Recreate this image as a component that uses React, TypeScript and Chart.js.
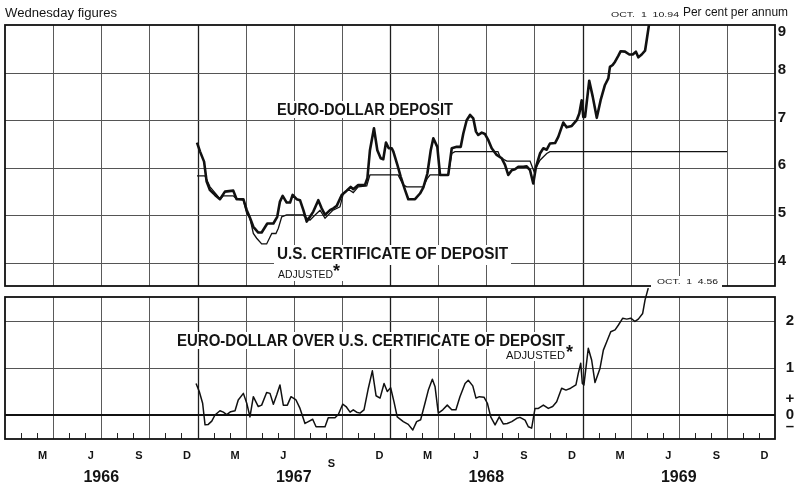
import React, { useEffect, useRef } from 'react';
import { Chart, registerables } from 'chart.js';

Chart.register(...registerables);

// ---------------- data (x = months since 1 Jan 1966) ----------------
const years = [1966, 1967, 1968, 1969];
const monthLetters = ['M', 'J', 'S', 'D'];
const monthLetterIndex = [2, 5, 8, 11];
const rateTicks = [9, 8, 7, 6, 5, 4];
const spreadTicks = [2, 1, 0];

const euroMonths = [
  11.97, 12.16, 12.41, 12.57, 12.78, 13.09, 13.4, 13.71, 14.23, 14.44, 14.86, 15.07, 15.27, 15.48,
  15.79, 16.0, 16.35, 16.73, 16.97, 17.14, 17.31, 17.56, 17.77, 17.93, 18.18, 18.39, 18.6, 18.81,
  19.01, 19.22, 19.53, 19.74, 19.95, 20.26, 20.47, 20.68, 20.99, 21.3, 21.55, 21.71, 22.02, 22.44,
  22.59, 22.75, 23.0, 23.21, 23.42, 23.58, 23.75, 23.92, 24.11, 24.21, 24.46, 24.67, 24.94, 25.14,
  25.56, 25.87, 26.08, 26.33, 26.54, 26.7, 26.95, 27.12, 27.63, 27.85, 28.16, 28.41, 28.57, 28.78,
  28.99, 29.19, 29.36, 29.5, 29.72, 29.92, 30.13, 30.34, 30.65, 30.96, 31.17, 31.37, 31.59, 31.79,
  32.0, 32.31, 32.52, 32.73, 32.93, 33.1, 33.35, 33.56, 33.77, 33.97, 34.29, 34.49, 34.8, 35.01,
  35.33, 35.64, 35.8, 35.95, 36.05, 36.16, 36.42, 36.64, 36.89, 37.13, 37.4, 37.61, 37.71, 37.88,
  38.03, 38.23, 38.38, 38.65, 38.92, 39.13, 39.33, 39.48, 39.69, 39.9, 40.0, 40.16, 40.33,
];
const euroRates = [
  6.53, 6.34, 6.13, 5.71, 5.53, 5.43, 5.34, 5.5, 5.52, 5.34, 5.34, 5.11, 4.95, 4.76,
  4.64, 4.64, 4.83, 4.83, 4.97, 5.29, 5.41, 5.27, 5.27, 5.43, 5.34, 5.32, 5.11, 4.87,
  4.97, 5.08, 5.32, 5.15, 5.01, 5.11, 5.15, 5.2, 5.43, 5.52, 5.6, 5.55, 5.64, 5.64,
  5.78, 6.37, 6.83, 6.37, 6.2, 6.18, 6.53, 6.41, 6.41, 6.34, 6.06, 5.81, 5.53, 5.34,
  5.34, 5.46, 5.59, 5.88, 6.37, 6.62, 6.44, 5.85, 5.85, 6.41, 6.44, 6.44, 6.72, 7.0,
  7.11, 7.04, 6.76, 6.69, 6.74, 6.71, 6.58, 6.41, 6.27, 6.2, 6.06, 5.85, 5.95, 5.97,
  6.02, 6.02, 6.03, 5.95, 5.67, 6.02, 6.3, 6.41, 6.38, 6.51, 6.52, 6.65, 6.95, 6.85,
  6.88, 7.0, 7.14, 7.42, 7.07, 7.07, 7.83, 7.49, 7.05, 7.42, 7.74, 7.88, 8.12, 8.16,
  8.23, 8.35, 8.45, 8.44, 8.38, 8.38, 8.44, 8.32, 8.38, 8.46, 8.68, 9.04, 9.6,
];

const cdMonths = [
  11.97, 12.47, 12.78, 13.2, 13.4, 13.61, 14.23, 14.44, 14.86, 15.07, 15.27, 15.48, 15.69, 16.0,
  16.31, 16.63, 16.89, 17.04, 17.25, 17.56, 18.58, 18.7, 19.01, 19.33, 19.64, 19.95, 20.45, 20.88,
  21.09, 21.4, 21.71, 22.02, 22.55, 22.75, 24.5, 24.83, 25.04, 26.08, 26.33, 26.5, 27.63, 27.85,
  28.05, 30.73, 30.86, 31.17, 31.29, 32.73, 32.98, 33.35, 33.77, 33.97, 45.01,
];
const cdRates = [
  5.83, 5.83, 5.6, 5.43, 5.34, 5.41, 5.41, 5.34, 5.32, 5.04, 4.94, 4.62, 4.52, 4.4,
  4.4, 4.62, 4.62, 4.73, 4.97, 5.01, 5.01, 4.97, 4.9, 5.01, 5.11, 4.94, 5.11, 5.18,
  5.46, 5.55, 5.48, 5.6, 5.62, 5.85, 5.85, 5.64, 5.6, 5.6, 5.78, 5.85, 5.85, 6.3,
  6.34, 6.34, 6.23, 6.16, 6.14, 6.14, 5.92, 6.16, 6.3, 6.34, 6.34,
];

const spreadMonths = [
  11.91, 12.11, 12.32, 12.47, 12.67, 12.89, 13.09, 13.4, 13.61, 13.82, 14.07, 14.34, 14.54, 14.86,
  15.07, 15.27, 15.48, 15.79, 16.0, 16.31, 16.52, 16.73, 16.94, 17.14, 17.35, 17.6, 17.83, 18.14,
  18.39, 18.7, 18.91, 19.18, 19.39, 19.74, 19.95, 20.15, 20.57, 20.78, 21.05, 21.26, 21.51, 21.71,
  21.92, 22.13, 22.38, 22.65, 22.9, 23.13, 23.38, 23.63, 23.83, 24.04, 24.25, 24.45, 24.83, 25.14,
  25.42, 25.66, 25.91, 26.18, 26.39, 26.64, 26.81, 27.01, 27.29, 27.57, 27.85, 28.11, 28.36, 28.68,
  28.88, 29.16, 29.36, 29.57, 29.86, 30.07, 30.28, 30.55, 30.81, 31.06, 31.31, 31.59, 31.9, 32.1,
  32.42, 32.62, 32.83, 33.04, 33.25, 33.56, 33.87, 34.14, 34.39, 34.7, 34.97, 35.26, 35.59, 35.74,
  35.89, 35.99, 36.09, 36.36, 36.57, 36.78, 37.09, 37.3, 37.51, 37.76, 38.03, 38.23, 38.51, 38.76,
  39.01, 39.27, 39.48, 39.75, 39.9, 40.1,
];
const spreadValues = [
  0.67, 0.5, 0.25, -0.21, -0.2, -0.13, 0.0, 0.09, 0.06, 0.01, 0.07, 0.09, 0.32, 0.46,
  0.25, -0.04, 0.39, 0.18, 0.21, 0.48, 0.46, 0.23, 0.43, 0.64, 0.21, 0.21, 0.39, 0.32,
  0.14, -0.18, -0.14, -0.09, -0.25, -0.25, -0.25, -0.06, -0.06, 0.01, 0.23, 0.18, 0.06, 0.11,
  0.06, 0.04, 0.11, 0.57, 0.94, 0.41, 0.36, 0.67, 0.5, 0.58, 0.28, -0.04, -0.14, -0.2,
  -0.32, -0.14, -0.1, 0.25, 0.53, 0.76, 0.6, 0.04, 0.11, 0.21, 0.11, 0.11, 0.39, 0.67,
  0.74, 0.62, 0.36, 0.39, 0.38, 0.25, -0.04, -0.21, -0.04, -0.19, -0.18, -0.14, -0.07, -0.05,
  -0.11, -0.25, -0.28, 0.14, 0.14, 0.21, 0.14, 0.18, 0.28, 0.57, 0.53, 0.57, 0.64, 0.89,
  1.1, 0.67, 0.64, 1.42, 1.17, 0.69, 0.99, 1.38, 1.56, 1.77, 1.81, 1.91, 2.06, 2.04,
  2.06, 1.99, 2.04, 2.16, 2.45, 2.7,
];

// ---------------- layout ----------------
const W = 805;
const H = 485;
const AREA = { left: 5, top: 25, right: 775, bottom: 439 };
const TOP_PANEL_BOTTOM = 286;
const BOTTOM_PANEL_TOP = 297;
const RATE_UNIT_PX = 47.6;
const SPREAD_UNIT_PX = 47;
const SPREAD_ZERO_PX = 415;
const rateMax = 9;
const rateMin = rateMax - (AREA.bottom - AREA.top) / RATE_UNIT_PX;
const spreadMin = -(AREA.bottom - SPREAD_ZERO_PX) / SPREAD_UNIT_PX;
const spreadMax = spreadMin + (AREA.bottom - AREA.top) / SPREAD_UNIT_PX;

const FONT = '"Liberation Sans", Arial, Helvetica, sans-serif';
const INK = '#141414';

function drawText(
  ctx: CanvasRenderingContext2D,
  s: string,
  x: number,
  y: number,
  font: string,
  align: 'left' | 'center' = 'left',
  width?: number,
  baseline: CanvasTextBaseline = 'alphabetic'
) {
  ctx.save();
  ctx.font = font;
  ctx.fillStyle = INK;
  ctx.textBaseline = baseline;
  ctx.textAlign = 'left';
  const w = ctx.measureText(s).width;
  const sx = width ? width / w : 1;
  const dw = w * sx;
  const left = align === 'center' ? x - dw / 2 : x;
  ctx.translate(left, y);
  ctx.scale(sx, 1);
  ctx.fillText(s, 0, 0);
  ctx.restore();
}

function whiteBox(ctx: CanvasRenderingContext2D, x: number, y: number, w: number, h: number) {
  ctx.save();
  ctx.fillStyle = '#ffffff';
  ctx.fillRect(x, y, w, h);
  ctx.restore();
}

const panelsPlugin = {
  id: 'panels',
  beforeDraw(chart: any) {
    const ctx = chart.ctx as CanvasRenderingContext2D;
    ctx.save();
    ctx.fillStyle = '#ffffff';
    ctx.fillRect(0, 0, chart.width, chart.height);
    ctx.restore();
  },
  beforeDatasetsDraw(chart: any) {
    const ctx = chart.ctx as CanvasRenderingContext2D;
    const xs = chart.scales.x;
    const ys = chart.scales.y;
    const y2 = chart.scales.y2;
    const L = AREA.left;
    const R = AREA.right;
    ctx.save();
    // vertical quarter gridlines
    for (let m = 3; m < 48; m += 3) {
      const x = Math.round(xs.getPixelForValue(m)) + 0.5;
      const isYear = m % 12 === 0;
      ctx.strokeStyle = isYear ? '#1e1e1e' : '#5a5a5a';
      ctx.lineWidth = isYear ? 1.3 : 1;
      ctx.beginPath();
      ctx.moveTo(x, AREA.top);
      ctx.lineTo(x, TOP_PANEL_BOTTOM);
      ctx.moveTo(x, BOTTOM_PANEL_TOP);
      ctx.lineTo(x, AREA.bottom);
      ctx.stroke();
    }
    // horizontal gridlines top panel
    ctx.strokeStyle = '#555';
    ctx.lineWidth = 1;
    for (const v of rateTicks) {
      if (v === rateMax) continue;
      const y = Math.round(ys.getPixelForValue(v)) + 0.5;
      ctx.beginPath();
      ctx.moveTo(L, y);
      ctx.lineTo(R, y);
      ctx.stroke();
    }
    // horizontal gridlines bottom panel
    for (const v of spreadTicks) {
      if (v === 0) continue;
      const y = Math.round(y2.getPixelForValue(v)) + 0.5;
      ctx.beginPath();
      ctx.moveTo(L, y);
      ctx.lineTo(R, y);
      ctx.stroke();
    }
    // monthly ticks
    ctx.strokeStyle = '#222';
    ctx.lineWidth = 1;
    for (let m = 1; m < 48; m++) {
      if (m % 3 === 0) continue;
      const x = Math.round(xs.getPixelForValue(m)) + 0.5;
      ctx.beginPath();
      ctx.moveTo(x, AREA.bottom);
      ctx.lineTo(x, AREA.bottom - 6);
      ctx.stroke();
    }
    // zero line
    const y0 = y2.getPixelForValue(0);
    ctx.strokeStyle = '#111';
    ctx.lineWidth = 2;
    ctx.beginPath();
    ctx.moveTo(L, y0);
    ctx.lineTo(R, y0);
    ctx.stroke();
    ctx.restore();

    // white boxes behind labels
    whiteBox(ctx, 274, 101, 183, 17);
    whiteBox(ctx, 274, 245, 237, 20);
    whiteBox(ctx, 275, 262, 72, 19);
    whiteBox(ctx, 174, 332, 394, 17);
    whiteBox(ctx, 503, 344, 76, 17);
  },
  afterDatasetsDraw(chart: any) {
    const ctx = chart.ctx as CanvasRenderingContext2D;
    const xs = chart.scales.x;
    const ys = chart.scales.y;
    const y2 = chart.scales.y2;
    ctx.save();
    ctx.strokeStyle = '#111';
    ctx.lineWidth = 1.8;
    ctx.strokeRect(AREA.left, AREA.top, AREA.right - AREA.left, TOP_PANEL_BOTTOM - AREA.top);
    ctx.strokeRect(AREA.left, BOTTOM_PANEL_TOP, AREA.right - AREA.left, AREA.bottom - BOTTOM_PANEL_TOP);
    ctx.restore();

    // break in top panel border for the off-scale note
    whiteBox(ctx, 651, 276, 71, 12);
    drawText(ctx, 'OCT.  1  4.56', 657, 284, `8px ${FONT}`, 'left', 61);

    // header
    drawText(ctx, 'Wednesday figures', 5, 17, `12px ${FONT}`, 'left', 112);
    drawText(ctx, 'OCT.  1  10.94', 611, 17, `8px ${FONT}`, 'left', 68);
    drawText(ctx, 'Per cent per annum', 683, 16, `12px ${FONT}`, 'left', 105);

    // series labels
    drawText(ctx, 'EURO-DOLLAR DEPOSIT', 277, 115, `bold 16px ${FONT}`, 'left', 176);
    drawText(ctx, 'U.S. CERTIFICATE OF DEPOSIT', 277, 259, `bold 16px ${FONT}`, 'left', 231);
    drawText(ctx, 'ADJUSTED', 278, 278, `11px ${FONT}`, 'left', 55);
    drawText(ctx, '*', 333, 277, `bold 18px ${FONT}`);
    drawText(ctx, 'EURO-DOLLAR OVER U.S. CERTIFICATE OF DEPOSIT', 177, 346, `bold 16px ${FONT}`, 'left', 388);
    drawText(ctx, 'ADJUSTED', 506, 359, `11px ${FONT}`, 'left', 59);
    drawText(ctx, '*', 566, 358, `bold 18px ${FONT}`);

    // right-hand tick labels
    for (const v of rateTicks) {
      const y = Math.max(ys.getPixelForValue(v) - 2.5, AREA.top + 6.5);
      drawText(ctx, String(v), 782, y, `bold 15px ${FONT}`, 'center', undefined, 'middle');
    }
    for (const v of spreadTicks) {
      const y = y2.getPixelForValue(v);
      drawText(ctx, String(v), 790, y, `bold 15px ${FONT}`, 'center', undefined, 'middle');
    }
    const z = y2.getPixelForValue(0);
    drawText(ctx, '+', 790, z - 16, `bold 15px ${FONT}`, 'center', undefined, 'middle');
    drawText(ctx, '\u2013', 790, z + 12, `bold 15px ${FONT}`, 'center', undefined, 'middle');

    // month and year labels
    years.forEach((yr, yi) => {
      monthLetters.forEach((ml, mi) => {
        const m = yi * 12 + monthLetterIndex[mi] + 0.35;
        const displaced = yr === 1967 && ml === 'S';
        drawText(ctx, ml, xs.getPixelForValue(m), displaced ? 467 : 459, `bold 11px ${FONT}`, 'center');
      });
      drawText(ctx, String(yr), xs.getPixelForValue(yi * 12 + 6), 482, `bold 16px ${FONT}`, 'center');
    });
  },
};

function pairs(xsArr: number[], ysArr: number[]) {
  return xsArr.map((x, i) => ({ x, y: ysArr[i] }));
}

export default function App() {
  const ref = useRef<HTMLCanvasElement | null>(null);
  useEffect(() => {
    if (!ref.current) return;
    const topClip = { left: 0, right: 0, top: 0, bottom: -(AREA.bottom - TOP_PANEL_BOTTOM) };
    const chart = new Chart(ref.current, {
      type: 'line',
      data: {
        datasets: [
          {
            label: 'Euro-dollar deposit',
            data: pairs(euroMonths, euroRates),
            yAxisID: 'y',
            borderColor: '#111',
            borderWidth: 2.6,
            pointRadius: 0,
            tension: 0,
            borderJoinStyle: 'round',
            clip: topClip as any,
          },
          {
            label: 'U.S. certificate of deposit, adjusted',
            data: pairs(cdMonths, cdRates),
            yAxisID: 'y',
            borderColor: '#111',
            borderWidth: 1.3,
            pointRadius: 0,
            tension: 0,
            clip: topClip as any,
          },
          {
            label: 'Euro-dollar over U.S. CD',
            data: pairs(spreadMonths, spreadValues),
            yAxisID: 'y2',
            borderColor: '#111',
            borderWidth: 1.5,
            pointRadius: 0,
            tension: 0,
            borderJoinStyle: 'round',
            clip: { left: 0, right: 0, top: -(288 - AREA.top), bottom: 0 } as any,
          },
        ],
      },
      options: {
        animation: false,
        responsive: false,
        maintainAspectRatio: false,
        devicePixelRatio: 1,
        parsing: true,
        layout: {
          padding: { left: AREA.left, top: AREA.top, right: W - AREA.right, bottom: H - AREA.bottom },
        },
        plugins: { legend: { display: false }, tooltip: { enabled: false } },
        scales: {
          x: { type: 'linear', min: 0, max: 48, display: false },
          y: { type: 'linear', min: rateMin, max: rateMax, display: false },
          y2: { type: 'linear', min: spreadMin, max: spreadMax, display: false },
        },
      } as any,
      plugins: [panelsPlugin],
    });
    return () => chart.destroy();
  }, []);
  return (
    <div style={{ position: 'fixed', left: 0, top: 0, width: W, height: H, background: '#fff' }}>
      <canvas ref={ref} width={W} height={H} style={{ display: 'block', width: W, height: H }} />
    </div>
  );
}
